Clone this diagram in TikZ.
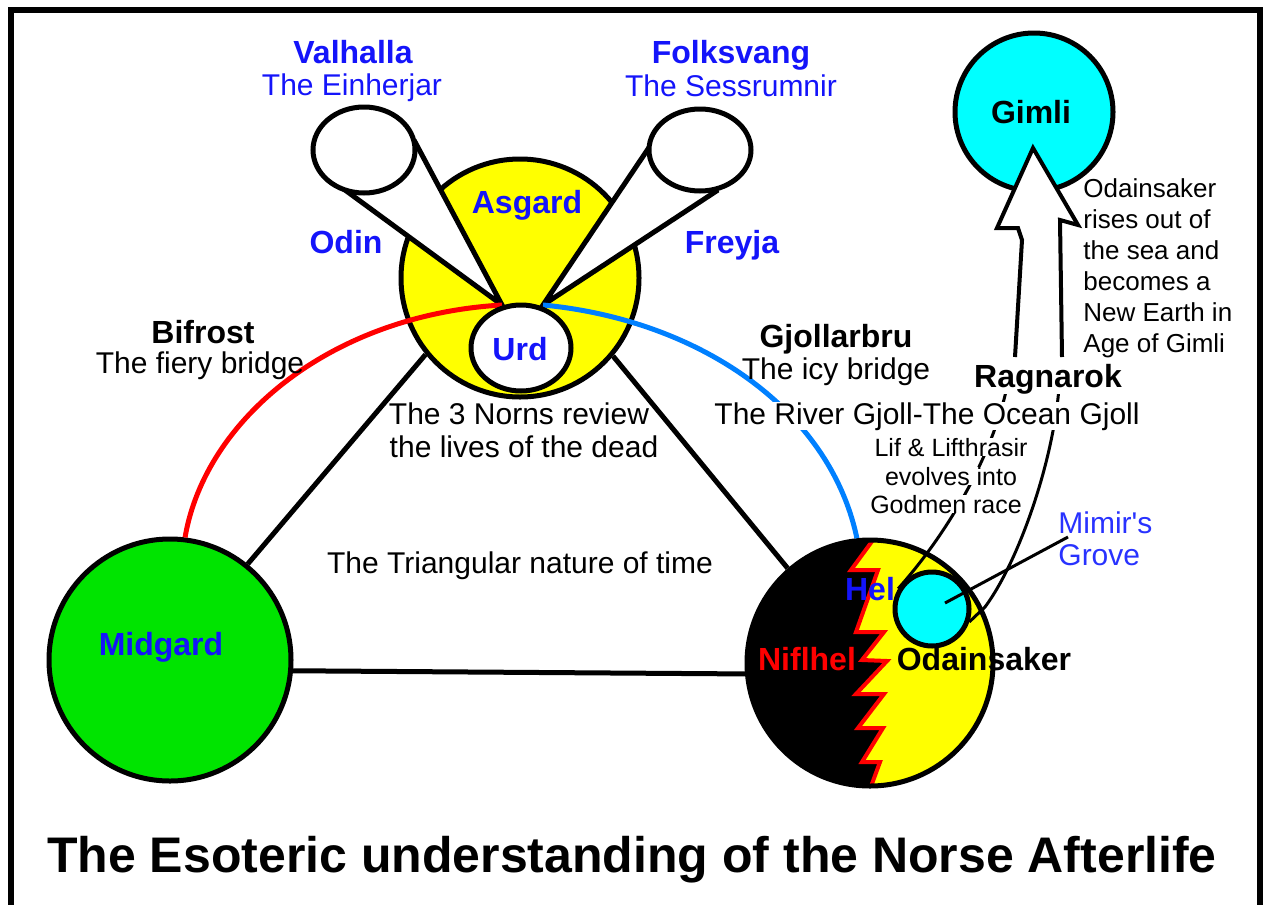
\documentclass[tikz,border=0pt]{standalone}
\usepackage{fontspec}
\setmainfont{Liberation Sans}
\usetikzlibrary{shapes.geometric}
\definecolor{tblue}{RGB}{20,20,250}
\definecolor{mblue}{RGB}{40,50,255}
\definecolor{iceblue}{RGB}{0,128,255}
\definecolor{midgreen}{RGB}{0,228,0}
\definecolor{gcyan}{RGB}{0,255,255}
\definecolor{gyellow}{RGB}{255,255,0}
\begin{document}
\begin{tikzpicture}[x=0.5pt,y=-0.5pt,
  bold/.style={font=\fontsize{16}{19}\selectfont\bfseries, inner sep=0pt, anchor=base},
  reg/.style={font=\fontsize{15}{18}\selectfont, inner sep=0pt, anchor=base},
  small/.style={font=\fontsize{12.5}{15}\selectfont, inner sep=0pt, anchor=base},
  side/.style={font=\fontsize{13}{15.5}\selectfont, inner sep=0pt, anchor=base west},
  world/.style={circle, draw=black, line width=2.5pt, inner sep=0pt},
  oval/.style={ellipse, draw=black, fill=white, line width=2.5pt, inner sep=0pt},
  tri/.style={line width=2.5pt},
  bridge/.style={line width=2.5pt},
  thinline/.style={line width=1.5pt},
  wbg/.style={fill=white}]
\useasboundingbox (0,0) rectangle (1264,905);
% frame
\draw[line width=3pt] (11,905) -- (11,10) -- (1260,10) -- (1260,905);

% worlds
\node[world, fill=midgreen, minimum size=121pt] (midgard) at (170,660) {};
\node[world, fill=gyellow, minimum size=119pt] (asgard) at (520,278) {};
\node[circle, fill=gyellow, inner sep=0pt, minimum size=123pt] (hel) at (870,663) {};
\begin{scope}
  \clip (870,663) circle [radius=61.5pt];
  \fill[black] (740,520) -- (873,520) -- (873,540) -- (851,570) -- (878,570) -- (856,632) -- (884,632) -- (862,660) -- (887,661) -- (856,694) -- (884,694) -- (858,728) -- (883,728) -- (862,762) -- (880,762) -- (866,800) -- (740,800) -- cycle;
  \draw[red, line width=2pt] (873,520) -- (873,540) -- (851,570) -- (878,570) -- (856,632) -- (884,632) -- (862,660) -- (887,661) -- (856,694) -- (884,694) -- (858,728) -- (883,728) -- (862,762) -- (880,762) -- (866,800);
\end{scope}
\node[world, minimum size=123pt] (helrim) at (870,663) {};

% triangle of time
\draw[tri] (midgard.51) -- (asgard.219);
\draw[tri] (asgard.-40) -- (helrim.131);
\draw[tri] (midgard.-5) -- (helrim.-175);

% cones to Valhalla and Folksvang
\coordinate (apexL) at (502,305);
\coordinate (apexR) at (543,305);
\coordinate (vL1) at (414,140);
\coordinate (vL2) at (345,190);
\coordinate (fR1) at (650,146);
\coordinate (fR2) at (718,190);
\fill[white] (apexL) -- (vL1) -- (vL2) -- cycle;
\fill[white] (apexR) -- (fR1) -- (fR2) -- cycle;
\draw[tri] (vL1) -- (apexL) -- (vL2);
\draw[tri] (fR1) -- (apexR) -- (fR2);
\node[oval, minimum width=51pt, minimum height=43pt] (valhalla) at (364,150) {};
\node[oval, minimum width=51pt, minimum height=41pt] (folksvang) at (700,150) {};

% bridges
\draw[bridge, red] (midgard.83) .. controls (205,420) and (330,315) .. (apexL);
\draw[bridge, iceblue] (apexR) .. controls (700,320) and (830,410) .. (helrim.96);

% Urd
\node[oval, minimum width=50pt, minimum height=43pt] (urd) at (521,348) {};

% Gimli and arrow
\node[world, fill=gcyan, minimum size=79pt] (gimli) at (1034,112) {};
\coordinate (aL) at (1015,357);
\coordinate (aR) at (1062,357);
\filldraw[fill=white, line width=2pt] (aL) -- (1022,240) -- (1018,228) -- (997,228) -- (1033,148) -- (1078,225) -- (1060,220) -- (aR);

% Mimir's grove
\node[world, fill=gcyan, minimum size=37pt] (grove) at (932,609) {};
\draw[thinline] (grove.149) .. controls (955,525) and (1000,440) .. (1010,370);
\draw[thinline] (grove.-19) -- (985,607) .. controls (1020,560) and (1058,450) .. (1060,370);
\coordinate (mimA) at (945,603);
\coordinate (mimB) at (1068,537);
\draw[thinline] (mimA) -- (mimB);

% labels
\node[bold, text=tblue] (tvalhalla) at (353,63) {Valhalla};
\node[reg, text=tblue] (teinherjar) at (352,95) {The Einherjar};
\node[bold, text=tblue] (tfolksvang) at (731,63) {Folksvang};
\node[reg, text=tblue] (tsess) at (731,96) {The Sessrumnir};
\node[bold, text=tblue] (tasgard) at (527,213) {Asgard};
\node[bold, text=tblue] (todin) at (346,253) {Odin};
\node[bold, text=tblue] (tfreyja) at (732,253) {Freyja};
\node[bold, text=tblue] (turd) at (520,360) {Urd};
\node[bold] (tbifrost) at (203,343) {Bifrost};
\node[reg] (tfiery) at (200,373) {The fiery bridge};
\node[bold] (tgjoll) at (836,347) {Gjollarbru};
\node[reg] (ticy) at (836,379) {The icy bridge};
\node[bold, wbg] (tragnarok) at (1048,387) {Ragnarok};
\node[reg, wbg] (triver) at (927,424) {The River Gjoll-The Ocean Gjoll};
\node[small, wbg] (tlif) at (951,456) {Lif \& Lifthrasir};
\node[small, wbg] (tevolves) at (951,485) {evolves into};
\node[small, wbg] (tgodmen) at (946,513) {Godmen race};
\node[reg] (tnorns1) at (519,424) {The 3 Norns review};
\node[reg] (tnorns2) at (524,457) {the lives of the dead};
\node[reg] (ttriangle) at (520,573) {The Triangular nature of time};
\node[bold, text=tblue] (tmidgard) at (161,655) {Midgard};
\node[bold, text=tblue] (thel) at (870,600) {Hel};
\node[bold, text=red] (tniflhel) at (807,670) {Niflhel};
\node[bold] (todainsaker) at (984,670) {Odainsaker};
\node[bold] (tgimli) at (1031,123) {Gimli};
\node[reg, text=mblue, anchor=base west] (tmimir) at (1058,533) {Mimir\textquotesingle s};
\node[reg, text=mblue, anchor=base west] (tgrove) at (1058,565) {Grove};
\node[side] (r1) at (1083,197) {Odainsaker};
\node[side] (r2) at (1083,228) {rises out of};
\node[side] (r3) at (1083,259) {the sea and};
\node[side] (r4) at (1083,290) {becomes a};
\node[side] (r5) at (1083,321) {New Earth in};
\node[side] (r6) at (1083,352) {Age of Gimli};
\node[font=\fontsize{25}{30}\selectfont\bfseries, inner sep=0pt, anchor=base] (title) at (632,872) {The Esoteric understanding of the Norse Afterlife};
\end{tikzpicture}
\end{document}
